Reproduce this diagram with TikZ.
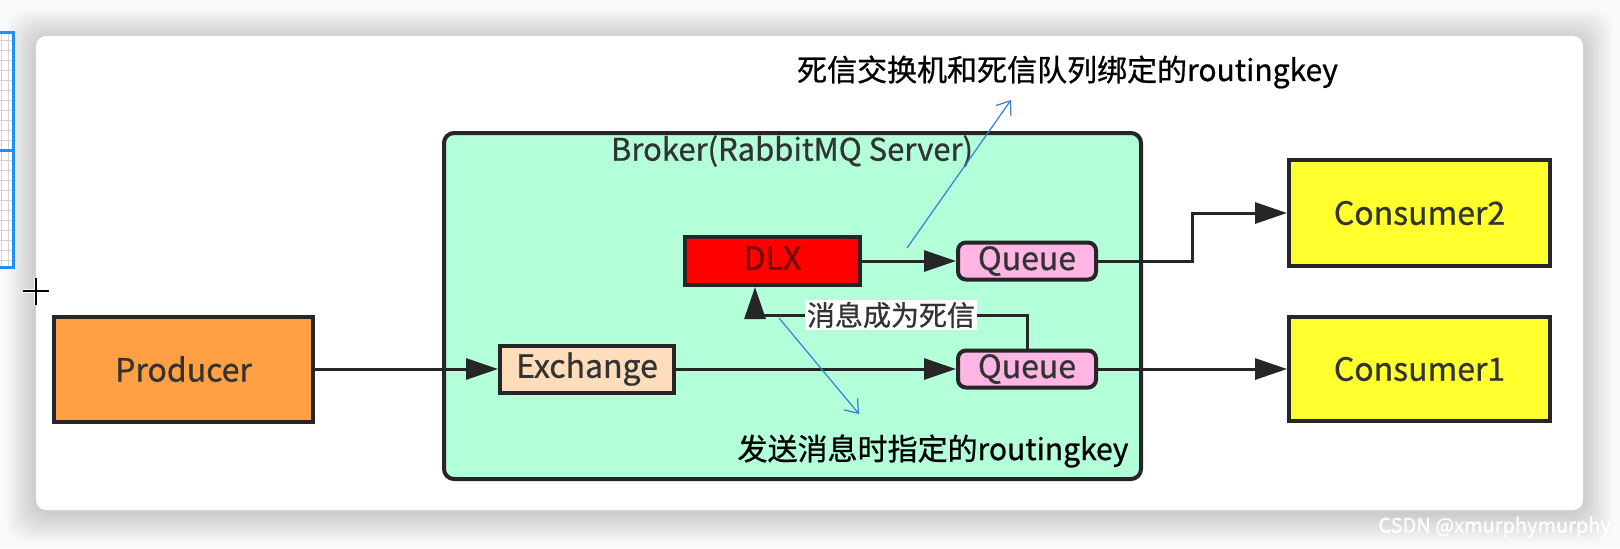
\documentclass[tikz,border=0pt]{standalone}
\usepackage{fontspec}
\setmainfont{Noto Sans CJK SC}[FakeBold=0.8]
\usetikzlibrary{arrows.meta, positioning, calc}
\definecolor{prodorange}{RGB}{255,160,68}
\definecolor{brokermint}{RGB}{178,255,218}
\definecolor{exchpeach}{RGB}{255,221,186}
\definecolor{dlxred}{RGB}{255,0,0}
\definecolor{dlxtext}{RGB}{110,10,10}
\definecolor{queuepink}{RGB}{255,182,228}
\definecolor{consyellow}{RGB}{255,255,46}
\definecolor{edgegray}{RGB}{38,38,38}
\definecolor{labelgray}{RGB}{51,51,51}
\definecolor{noteblue}{RGB}{58,123,213}
\definecolor{panelblue}{RGB}{30,144,255}
\tikzset{
    box/.style={draw=edgegray, line width=2pt, inner sep=0pt, text=labelgray,
      font=\fontsize{16pt}{19pt}\selectfont},
    queuebox/.style={box, fill=queuepink, rounded corners=4pt, minimum width=69pt, minimum height=18.5pt},
    flow/.style={draw=edgegray, line width=1.5pt, -{Triangle[length=16pt, width=10.5pt]}},
    note/.style={draw=noteblue, line width=0.6pt, -{Straight Barb[length=6pt, width=9pt]}},
    notetext/.style={text=black, inner sep=0pt, font=\fontsize{15pt}{18pt}\selectfont},
}

\begin{document}
\begin{tikzpicture}[x=0.5pt, y=-0.5pt]
    \useasboundingbox (0,0) rectangle (1620,548);
    \fill[gray!4] (0,0) rectangle (1620,548);
    \foreach \r in {30,28,...,2}
      \fill[black, opacity=0.012, rounded corners=10pt] (36-\r,39-\r) rectangle (1583+\r,513+\r);
    \fill[white, rounded corners=5pt] (36,36) rectangle (1583,510);

    % screen leftovers
    \fill[white] (-4,31) rectangle (14,268);
    \foreach \y in {40,50,...,260}
      \draw[gray!35, line width=0.5pt] (-4,\y) -- (14,\y);
    \foreach \x in {1,8}
      \draw[gray!35, line width=0.5pt] (\x,31) -- (\x,268);
    \draw[panelblue, line width=1.5pt] (-4,32) rectangle (13.5,267) (-4,150) -- (13.5,150);
    \draw[white, line width=2pt] (23,291) -- (49,291) (36,278) -- (36,305);
    \draw[black, line width=0.8pt] (23,291) -- (49,291) (36,278) -- (36,305);

    \node[box, fill=brokermint, rounded corners=5pt, minimum width=348.5pt, minimum height=173pt] (broker) at (792.5,306) {};
    \node[text=labelgray, inner sep=0pt, font=\fontsize{15.5pt}{18pt}\selectfont] (brokertitle) at (792,151) {Broker(RabbitMQ Server)};

    \node[box, fill=prodorange, minimum width=129.5pt, minimum height=52.5pt] (producer) at (183.5,369) {Producer};
    \node[box, fill=exchpeach, minimum width=87pt, minimum height=23.5pt] (exchange) at (587,369) {Exchange};
    \node[box, fill=dlxred, text=dlxtext, minimum width=87.5pt, minimum height=24pt] (dlx) at (772.5,261) {\raisebox{3pt}{DLX}};
    \node[queuebox] (queue2) at (1027,261) {Queue};
    \node[queuebox] (queue1) at (1027,369) {Queue};
    \node[box, fill=consyellow, minimum width=130.5pt, minimum height=53pt] (consumer2) at (1419.5,213) {Consumer2};
    \node[box, fill=consyellow, minimum width=130.5pt, minimum height=52pt] (consumer1) at (1419.5,369) {Consumer1};

    \draw[flow] (producer) -- (exchange);
    \draw[flow] (exchange) -- (queue1);
    \draw[flow] (dlx.east) -- (queue2.west);
    \draw[flow] (queue1) -- (consumer1);
    \draw[flow] (queue2.east) -| ($(queue2.east)!0.5!(consumer2.west)$) |- (consumer2.west);
    \coordinate (deadturn) at (755,315);
    \draw[flow] (queue1.north) |- node[pos=0.75, fill=white, inner sep=1pt, text=labelgray,
      font=\fontsize{14pt}{17pt}\selectfont] (deadlbl) {消息成为死信} (deadturn) -- (deadturn |- dlx.south);

    \node[notetext] (dlxkey) at (1067.5,72) {死信交换机和死信队列绑定的routingkey};
    \node[notetext] (sendkey) at (933,451) {发送消息时指定的routingkey};
    \coordinate (dlxkeyfrom) at (907,248);
    \coordinate (dlxkeyto) at (1011,100);
    \coordinate (sendkeyfrom) at (779,318);
    \coordinate (sendkeyto) at (859,414);
    \draw[note] (dlxkeyfrom) -- (dlxkeyto);
    \draw[note] (sendkeyfrom) -- (sendkeyto);

    \node[text=white, anchor=west, inner sep=0pt, font=\fontsize{10pt}{12pt}\selectfont] (mark) at (1378,527) {CSDN @xmurphymurphy};
\end{tikzpicture}
\end{document}
